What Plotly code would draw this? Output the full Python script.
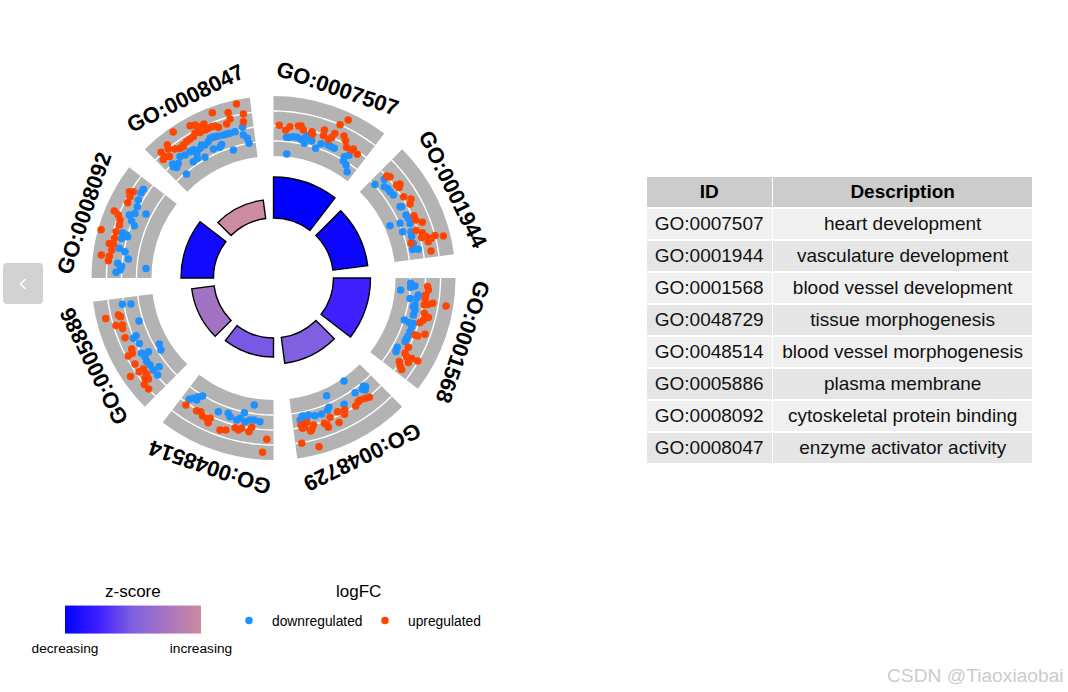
import numpy as np
import plotly.graph_objects as go

W, H = 1068, 692
CX, CY = 273.5, 278.0
FONT = "Liberation Sans"

ids = ["GO:0007507", "GO:0001944", "GO:0001568", "GO:0048729",
       "GO:0048514", "GO:0005886", "GO:0008092", "GO:0008047"]
descriptions = ["heart development", "vasculature development", "blood vessel development",
                "tissue morphogenesis", "blood vessel morphogenesis", "plasma membrane",
                "cytoskeletal protein binding", "enzyme activator activity"]
bar_top = [101, 95, 97, 86, 79, 82.5, 92.5, 78.6]
zscore = [0.0, 0.05, 0.25, 0.5, 0.47, 0.72, 0.07, 1.0]
track_edges = [122, 137, 152, 167, 182]

# (theta degrees, radial position) for each gene
up_0007507 = [(2.2,152.8),(4.7,148.5),(6.2,152.2),(9.3,154),(10.3,154.5),(11.4,151),(14.7,151.3),(15.2,149),(19.0,156.5),(19.3,151),(21.6,149),(22.5,152),(23.0,157),(23.5,167),(25.3,174.8),(26.4,158.5),(27.7,155),(29.2,149.7),(31.2,149.6),(31.8,151.7),(34.1,149.4)]
down_0007507 = [(5.3,141.3),(6.7,141.6),(8.0,142.7),(9.6,142.7),(11.2,141.4),(12.9,138.2),(12.9,144.3),(13.5,146),(15.5,142.5),(18.0,136.4),(19.5,142.5),(22.4,143.9),(23.6,143.4),(25.1,143.2),(6.1,124.7),(30.3,140.5),(31.6,144),(30.8,136.5),(32.7,134.3),(34.7,129.3)]
up_0001944 = [(48.0,152.4),(49.0,154.4),(52.9,154.3),(53.4,157.6),(54.2,154.8),(58.0,153.5),(60.1,158.6),(61.5,155.3),(66.1,153.7),(67.8,153.5),(69.5,158.9),(71.6,150.2),(73.1,155.6),(74.7,153.7),(74.8,158),(76.8,159),(75.3,167),(75.9,162.4),(76.1,175),(75.8,141.8),(80.3,159.8)]
down_0001944 = [(47.3,138),(48.3,148.4),(50.5,143.6),(51.9,145.2),(53.5,145),(55.3,145.8),(60.6,145.2),(60.9,146.7),(64.6,146.7),(66.1,147.4),(66.6,137.8),(65.8,127.7),(70.3,137.2),(68.2,147),(71.4,145),(73.3,144.2),(76.1,144),(78.4,142),(78.8,147.6)]
up_0001568 = [(93.2,154.4),(94.4,155.3),(96.4,153.1),(97.6,152.9),(100.1,153.2),(99.7,157),(99.0,161.2),(99.2,174.8),(103.2,154.9),(104.3,159.8),(105.7,155.6),(107.0,153.2),(110.4,161.6),(111.9,152.5),(111.9,155.4),(117.2,151.6),(119.8,151.5),(120.6,154.7),(120.2,159.8),(122.1,159.2),(119.9,166.4),(123.6,151.1),(124.8,154.1),(125.5,157.4)]
down_0001568 = [(95.4,127.7),(92.2,137.3),(93.9,137.5),(93.2,141.7),(96.7,145.8),(98.1,144.6),(98.5,138),(100.8,144),(102.7,145),(104.8,144.7),(107.8,137.4),(108.2,142.7),(108.0,147),(111.5,146.7),(113.6,146.4),(115.8,146.1),(119.2,141.9),(121.0,142.9),(101.6,142.7),(109.4,146.5),(114.8,146)]
up_0048729 = [(141.2,153),(142.8,151.2),(144.7,149.6),(145.6,150),(147.3,152.1),(151.6,150.1),(152.4,150.8),(154.4,148.3),(152.5,153.7),(157.9,150.3),(155.6,158.8),(160.7,154),(160,155.7),(159.8,159.1),(164.8,152.3),(167.1,148.4),(169.4,149.6),(169.1,153.1),(165.8,156.1),(168.3,152.5),(166.3,157.4),(170.3,167.7),(164.9,174.7)]
down_0048729 = [(145.6,124.8),(140.2,140.5),(139.7,142.5),(141.4,142.4),(140.7,144.6),(144.6,140.7),(155.7,129.1),(150.8,144.7),(156.8,140.7),(157.7,142.7),(160.5,144.3),(163.2,143.8),(165.7,141.3),(168.2,141),(166.7,144.2),(169.4,144.5)]
up_0048514 = [(214.6,154.2),(210.1,153.3),(208.6,152.2),(207.2,155.1),(205.5,155.4),(204.3,154),(204.3,158.7),(199.4,161.1),(197.4,159.2),(194.4,154.5),(193,156),(192,153.7),(189.1,155.6),(188.3,150.9),(182.4,161.5),(183.6,174.7)]
down_0048514 = [(214.8,147.7),(213.7,144.6),(212.2,144.2),(212.4,140.5),(211,137.6),(188.6,128.4),(202.4,144.6),(198.5,142.7),(197.4,145.3),(194.5,146.7),(193.4,144.3),(192.2,137.8),(191.2,146.5),(189.4,143.9),(187.8,143.3),(185.4,144.3)]
up_0005886 = [(256.4,172.7),(256.6,159.5),(255.8,157.7),(253.2,164.6),(252.7,158.3),(251.5,159),(248.1,160),(243.4,158.6),(241.9,160),(241.8,164.8),(238.2,163),(235.1,163.9),(235,158.8),(232.9,159.1),(232,163),(231.1,160.8),(235.4,173.6),(230.5,167.3),(228.4,167)]
down_0005886 = [(260.1,153.4),(259.7,144.9),(252.3,141.2),(247.2,149.1),(246.7,152.6),(244,149.2),(240,131.9),(237.4,133.6),(240.3,151.8),(239.5,145.2),(238.5,150.7),(236.6,151.9),(234.8,151.1),(232.6,151.3),(232.2,144.8),(230.1,151.1)]
up_0008092 = [(300.9,168),(301.6,164.6),(299.5,164.9),(297.3,164.1),(292.8,172.7),(292.1,167.5),(290.7,164.1),(289,163),(286.4,164.2),(284,164),(281.9,167.8),(282,163.7),(279.8,164.2),(285.6,179),(277.6,173.7),(277.6,165.6),(276,166.1)]
down_0008092 = [(304.3,157.5),(302.8,157.6),(300,156.1),(297.6,153.7),(295,152.9),(293.6,157.3),(296.7,142.7),(292,153),(290.6,148.7),(286.7,157.5),(286.3,153),(285.8,151.6),(284.6,156.9),(280.9,157),(280,150.8),(277.5,146.4),(275.4,156.5),(274.3,152.3),(273,153.7),(272.1,157.6),(274.3,127.9)]
up_0008047 = [(348,177.9),(339.7,176.3),(344.7,171.7),(349.6,166.8),(344.7,164.8),(349.1,159.2),(343.1,161),(325.5,177.1),(331.3,173.7),(333.2,170.3),(335.7,169),(337.8,163.5),(339.9,160.4),(333.1,166),(330.4,162.5),(327.5,161.7),(324.2,159.9),(322.6,162.3),(321.4,170.2),(320.8,166.4),(318.2,168.7),(319.4,159.9),(317.1,161.9),(318.2,162.8),(335.2,163.1),(333.2,162.9),(328.9,161.9),(325.9,160.7),(332.8,172),(334.5,166.9),(336.5,163.2),(339,162.9),(331.5,164.6),(325.5,159.3)]
down_0008047 = [(348.4,153.8),(345.3,151.3),(343.3,151.1),(340.7,151.5),(338.8,152.3),(336.6,153.3),(348.1,146.1),(349.4,142.1),(349.7,136.9),(342.6,134.2),(338.8,143.3),(337.7,141.2),(335,142.3),(332.7,149.6),(330.5,149),(328.4,146.4),(326.5,151.4),(324.3,151.5),(322.4,153.2),(330.4,138.8),(327.5,141.8),(325.4,141.3),(318.5,152.2),(320.3,149),(318.8,147),(320.1,135.5),(318,149.8),(334.4,151.1),(327.9,151),(342,151.4),(337.5,153),(335.6,153.4),(328.5,150.2),(331.6,151.2)]

down_genes = (down_0007507 + down_0001944 + down_0001568 + down_0048729
              + down_0048514 + down_0005886 + down_0008092 + down_0008047)
up_genes = (up_0007507 + up_0001944 + up_0001568 + up_0048729
            + up_0048514 + up_0005886 + up_0008092 + up_0008047)

SECTOR, SPAN = 45.0, 37.5
centers = [SECTOR * i + SPAN / 2 for i in range(len(ids))]
colorscale = [[0, "#0000FF"], [0.25, "#4020FF"], [0.5, "#8060E0"], [1, "#CD8B9F"]]

fig = go.Figure()

# grey tracks
fig.add_trace(go.Barpolar(
    theta=centers, r=[track_edges[-1] - track_edges[0]] * 8, base=track_edges[0],
    width=SPAN, marker=dict(color="#B3B3B3", line=dict(width=0)),
    showlegend=False, hoverinfo="skip"))

# white rules inside tracks
arc_t, arc_r = [], []
for edge in track_edges[1:-1]:
    for i in range(8):
        ts = list(np.linspace(SECTOR * i, SECTOR * i + SPAN, 30))
        arc_t += ts + [None]
        arc_r += [edge] * 30 + [None]
fig.add_trace(go.Scatterpolar(theta=arc_t, r=arc_r, mode="lines",
                              line=dict(color="white", width=1.4),
                              showlegend=False, hoverinfo="skip"))

# inner bars
fig.add_trace(go.Barpolar(
    theta=centers, r=[t - 60 for t in bar_top], base=60, width=SPAN,
    marker=dict(color=zscore, colorscale=colorscale, cmin=0, cmax=1,
                line=dict(color="black", width=1.4), showscale=True,
                colorbar=dict(orientation="h", x=133 / W, xanchor="center",
                              y=1 - 657 / H, yanchor="bottom", thickness=28,
                              thicknessmode="pixels", len=136, lenmode="pixels",
                              xpad=0, ypad=0, outlinewidth=0,
                              tickvals=[0, 1], ticktext=["decreasing", "increasing"],
                              ticks="outside", ticklen=4, tickcolor="rgba(0,0,0,0)",
                              tickfont=dict(family=FONT, size=13.7, color="black"))),
    showlegend=False, hoverinfo="skip"))

fig.add_trace(go.Scatterpolar(
    theta=[g[0] for g in down_genes], r=[g[1] for g in down_genes], mode="markers",
    name="downregulated", marker=dict(color="#1E90FF", size=7.5)))
fig.add_trace(go.Scatterpolar(
    theta=[g[0] for g in up_genes], r=[g[1] for g in up_genes], mode="markers",
    name="upregulated", marker=dict(color="#FF4500", size=7.5)))

# table (non-breaking spaces keep every description on one line)
fig.add_trace(go.Table(
    domain=dict(x=[646 / W, 1033.5 / W], y=[1 - 470 / H, 1 - 176 / H]),
    columnwidth=[126, 260],
    header=dict(values=["ID", "Description"], fill_color="#CCCCCC",
                line=dict(color="white", width=1.5), height=32, align="center",
                font=dict(family=FONT, size=19, color="black", weight=700)),
    cells=dict(values=[ids, [d.replace(" ", "\u00a0") for d in descriptions]],
               fill_color=[["#F0F0F0" if i % 2 == 0 else "#E5E5E5" for i in range(8)]] * 2,
               line=dict(color="white", width=1.5), height=32, align="center",
               font=dict(family=FONT, size=19, color="#111111"))))

annotations = []
for i, label in enumerate(ids):
    a = np.radians(centers[i])
    annotations.append(dict(
        text=f"<b>{label}</b>", xref="paper", yref="paper",
        x=(CX + 200 * np.sin(a)) / W, y=1 - (CY - 200 * np.cos(a)) / H,
        textangle=centers[i], showarrow=False, xanchor="center", yanchor="middle",
        font=dict(family=FONT, size=22, color="black")))
for txt, px, py in [("z-score", 132.5, 591), ("logFC", 358.5, 591)]:
    annotations.append(dict(text=txt, xref="paper", yref="paper", x=px / W, y=1 - py / H,
                            showarrow=False, xanchor="center", yanchor="middle",
                            font=dict(family=FONT, size=17, color="black")))
annotations.append(dict(text="CSDN @Tiaoxiaobai", xref="paper", yref="paper", x=1065.5 / W,
                        y=1 - 675 / H, showarrow=False, xanchor="right", yanchor="middle",
                        font=dict(family=FONT, size=19.2, color="#CCCCCC")))


def px_x(v):
    return v / W


def px_y(v):
    return 1 - v / H


def rounded_rect(x0, y0, x1, y1, rad):
    return (f"M {px_x(x0 + rad)} {px_y(y0)} L {px_x(x1 - rad)} {px_y(y0)} "
            f"Q {px_x(x1)} {px_y(y0)} {px_x(x1)} {px_y(y0 + rad)} "
            f"L {px_x(x1)} {px_y(y1 - rad)} Q {px_x(x1)} {px_y(y1)} {px_x(x1 - rad)} {px_y(y1)} "
            f"L {px_x(x0 + rad)} {px_y(y1)} Q {px_x(x0)} {px_y(y1)} {px_x(x0)} {px_y(y1 - rad)} "
            f"L {px_x(x0)} {px_y(y0 + rad)} Q {px_x(x0)} {px_y(y0)} {px_x(x0 + rad)} {px_y(y0)} Z")


chevron = (f"M {px_x(25.5)} {px_y(279)} L {px_x(20.5)} {px_y(284)} L {px_x(25.5)} {px_y(289)}")

fig.update_layout(
    width=W, height=H, margin=dict(l=0, r=0, t=0, b=0), autosize=False,
    paper_bgcolor="white", plot_bgcolor="white", font=dict(family=FONT),
    polar=dict(
        domain=dict(x=[(CX - 200) / W, (CX + 200) / W], y=[1 - (CY + 200) / H, 1 - (CY - 200) / H]),
        bgcolor="rgba(0,0,0,0)",
        radialaxis=dict(range=[0, 200], visible=False),
        angularaxis=dict(rotation=90, direction="clockwise", visible=False),
        barmode="overlay"),
    legend=dict(orientation="h", x=226 / W, y=1 - 605 / H, xanchor="left", yanchor="top",
                font=dict(family=FONT, size=13.8, color="black"), bgcolor="rgba(0,0,0,0)",
                itemsizing="trace", itemwidth=36, entrywidth=85, entrywidthmode="pixels"),
    annotations=annotations,
    shapes=[dict(type="path", xref="paper", yref="paper", path=rounded_rect(3, 263, 43, 304, 4),
                 fillcolor="#D2D2D2", line=dict(width=0)),
            dict(type="path", xref="paper", yref="paper", path=chevron,
                 line=dict(color="white", width=1.6))],
)

fig.write_html("out.html", post_script="document.body.style.margin='0';",
               config=dict(displayModeBar=False))
